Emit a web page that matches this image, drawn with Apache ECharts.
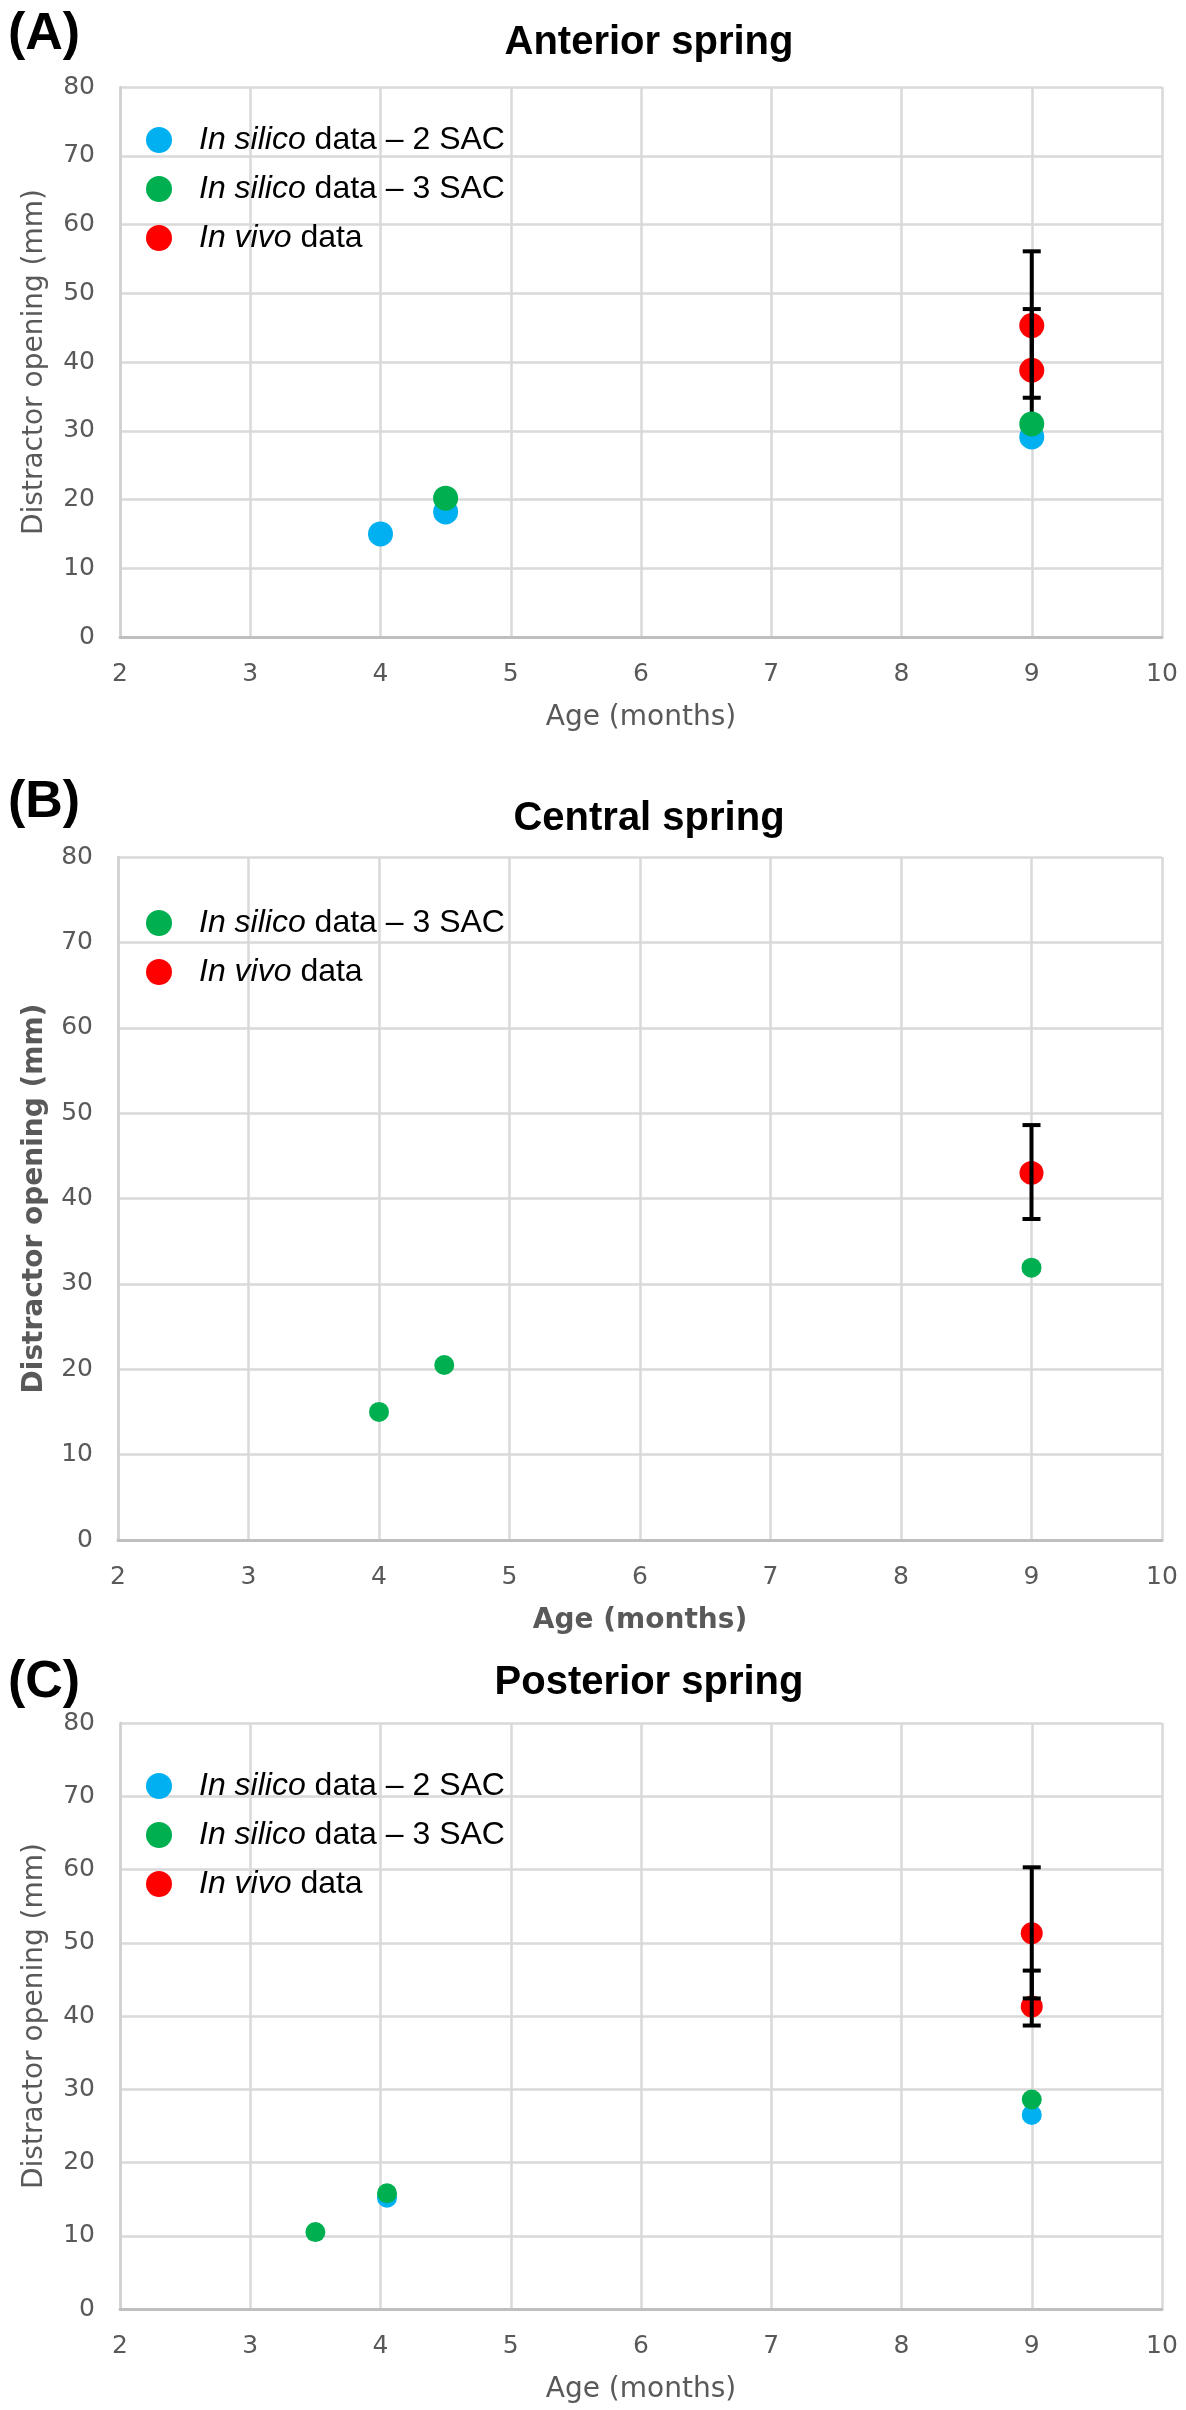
<!DOCTYPE html>
<html><head><meta charset="utf-8">
<script src="https://cdn.jsdelivr.net/npm/echarts@6/dist/echarts.min.js"></script>
<style>html,body{margin:0;padding:0;background:#fff}#c{width:1186px;height:2410px}</style>
</head><body><div id="c"></div>
<script>
// ---------- data ----------
const xTicks = [2, 3, 4, 5, 6, 7, 8, 9, 10];
const yTicks = [0, 10, 20, 30, 40, 50, 60, 70, 80];
const panelLabels = ['(A)', '(B)', '(C)'];
const panelTitles = ['Anterior spring', 'Central spring', 'Posterior spring'];
const xAxisTitle = 'Age (months)';
const yAxisTitle = 'Distractor opening (mm)';
const seriesNames = ['In silico data – 2 SAC', 'In silico data – 3 SAC', 'In vivo data'];

// Panel A – anterior spring  [age, opening]
const a2SAC = [[4, 15.0], [4.5, 18.2], [9, 29.1]];
const a3SAC = [[4.5, 20.2], [9, 31.0]];
const aVivo = [[9, 45.3], [9, 38.8]];
const aErr  = [[9, 34.8, 56.1], [9, 29.8, 47.7]];   // [age, low, high]

// Panel B – central spring
const b3SAC = [[4, 15.0], [4.5, 20.5], [9, 31.9]];
const bVivo = [[9, 43.0]];
const bErr  = [[9, 37.6, 48.6]];

// Panel C – posterior spring
const c2SAC = [[4.05, 15.2], [9, 26.5]];
const c3SAC = [[3.5, 10.5], [4.05, 15.8], [9, 28.6]];
const cVivo = [[9, 51.3], [9, 41.3]];
const cErr  = [[9, 42.4, 60.3], [9, 38.7, 46.2]];

// ---------- styling / layout ----------
const FONT = "'Liberation Sans', Arial, sans-serif";
const AXFONT = "'DejaVu Sans', Verdana, sans-serif";
const BLUE = '#00B0F0', GREEN = '#00B050', RED = '#FF0000';
const panels = [
  { top: 87,   height: 550, left: 120, labelTop: 4,    titleTop: 18,   legendTop: 117,  boldAxis: false, sym: [25, 25, 25] },
  { top: 857,  height: 683, left: 118, labelTop: 772,  titleTop: 794,  legendTop: 900,  boldAxis: true,  sym: [20, 20, 24] },
  { top: 1723, height: 586, left: 120, labelTop: 1652, titleTop: 1658, legendTop: 1763, boldAxis: false, sym: [20, 20, 22] }
];

const grids = [], xAxes = [], yAxes = [], titles = [], legends = [], series = [];

panels.forEach((p, i) => {
  grids.push({ left: p.left, right: 24, top: p.top, height: p.height });
  const nameStyle = { fontFamily: AXFONT, fontSize: 28, color: '#595959', fontWeight: p.boldAxis ? 'bold' : 'normal' };
  xAxes.push({
    gridIndex: i, type: 'value', min: xTicks[0], max: xTicks[xTicks.length - 1], interval: 1,
    name: xAxisTitle, nameLocation: 'middle', nameGap: 67, nameTextStyle: nameStyle,
    axisLine: { show: true, lineStyle: { color: '#bfbfbf', width: 3 } },
    axisTick: { show: false },
    axisLabel: { color: '#595959', fontSize: 25, fontFamily: AXFONT, margin: 25 },
    splitLine: { show: true, lineStyle: { color: '#d9d9d9', width: 2.5 } }
  });
  yAxes.push({
    gridIndex: i, type: 'value', min: yTicks[0], max: yTicks[yTicks.length - 1], interval: 10,
    name: yAxisTitle, nameLocation: 'middle', nameGap: p.left - 34 - 15, nameTextStyle: nameStyle,
    axisLine: { show: true, lineStyle: { color: '#d0d0d0', width: 2.5 } },
    axisTick: { show: false },
    axisLabel: { color: '#595959', fontSize: 25, fontFamily: AXFONT, margin: 25 },
    splitLine: { show: true, lineStyle: { color: '#d9d9d9', width: 2.5 } }
  });
  titles.push({ text: panelLabels[i], left: 3, top: p.labelTop,
    textStyle: { fontFamily: FONT, fontSize: 52, fontWeight: 'bold', color: '#000' } });
  titles.push({ text: panelTitles[i], left: 644, top: p.titleTop, textAlign: 'center',
    textStyle: { fontFamily: FONT, fontSize: 40, fontWeight: 'bold', color: '#000' } });
});

function legendFor(names, top) {
  return {
    data: names, orient: 'vertical', left: 141, top: top, icon: 'circle',
    itemWidth: 26, itemHeight: 26, itemGap: 13, selectedMode: false,
    formatter: function (name) {
      const m = name.match(/^(In \w+)(.*)$/);
      return '{sp| }{i|' + m[1] + '}{n|' + m[2] + '}';
    },
    textStyle: {
      fontFamily: FONT, fontSize: 32, color: '#000', lineHeight: 36,
      rich: {
        sp: { width: 22, fontSize: 32, lineHeight: 36 },
        i: { fontStyle: 'italic', fontFamily: FONT, fontSize: 32, color: '#000', lineHeight: 36 },
        n: { fontFamily: FONT, fontSize: 32, color: '#000', lineHeight: 36 }
      }
    }
  };
}
legends.push(legendFor(seriesNames, panels[0].legendTop));
legends.push(legendFor([seriesNames[1], seriesNames[2]], panels[1].legendTop));
legends.push(legendFor(seriesNames, panels[2].legendTop));

function scatter(i, name, data, color, size, z) {
  return { type: 'scatter', name: name, xAxisIndex: i, yAxisIndex: i, data: data,
    symbol: 'circle', symbolSize: size, itemStyle: { color: color, opacity: 1 }, z: z };
}
function errorBars(i, data) {
  return {
    type: 'custom', name: 'error ' + i, xAxisIndex: i, yAxisIndex: i, data: data, z: 3,
    encode: { x: 0, y: [1, 2] },
    renderItem: function (params, api) {
      const lo = api.coord([api.value(0), api.value(1)]);
      const hi = api.coord([api.value(0), api.value(2)]);
      const hw = 9;
      const st = { stroke: '#000', lineWidth: 4 };
      return { type: 'group', children: [
        { type: 'line', shape: { x1: lo[0], y1: lo[1], x2: hi[0], y2: hi[1] }, style: st },
        { type: 'line', shape: { x1: lo[0] - hw, y1: lo[1], x2: lo[0] + hw, y2: lo[1] }, style: st },
        { type: 'line', shape: { x1: hi[0] - hw, y1: hi[1], x2: hi[0] + hw, y2: hi[1] }, style: st }
      ] };
    }
  };
}

const s = panels.map(p => p.sym);
series.push(scatter(0, seriesNames[2], aVivo, RED, s[0][2], 2));
series.push(errorBars(0, aErr));
series.push(scatter(0, seriesNames[0], a2SAC, BLUE, s[0][0], 4));
series.push(scatter(0, seriesNames[1], a3SAC, GREEN, s[0][1], 5));

series.push(scatter(1, seriesNames[2], bVivo, RED, s[1][2], 2));
series.push(errorBars(1, bErr));
series.push(scatter(1, seriesNames[1], b3SAC, GREEN, s[1][1], 5));

series.push(scatter(2, seriesNames[2], cVivo, RED, s[2][2], 2));
series.push(errorBars(2, cErr));
series.push(scatter(2, seriesNames[0], c2SAC, BLUE, s[2][0], 4));
series.push(scatter(2, seriesNames[1], c3SAC, GREEN, s[2][1], 5));

const chart = echarts.init(document.getElementById('c'), null, { renderer: 'canvas' });
chart.setOption({
  backgroundColor: '#fff', animation: false,
  color: [BLUE, GREEN, RED],
  title: titles, grid: grids, xAxis: xAxes, yAxis: yAxes, legend: legends, series: series
});
</script></body></html>
